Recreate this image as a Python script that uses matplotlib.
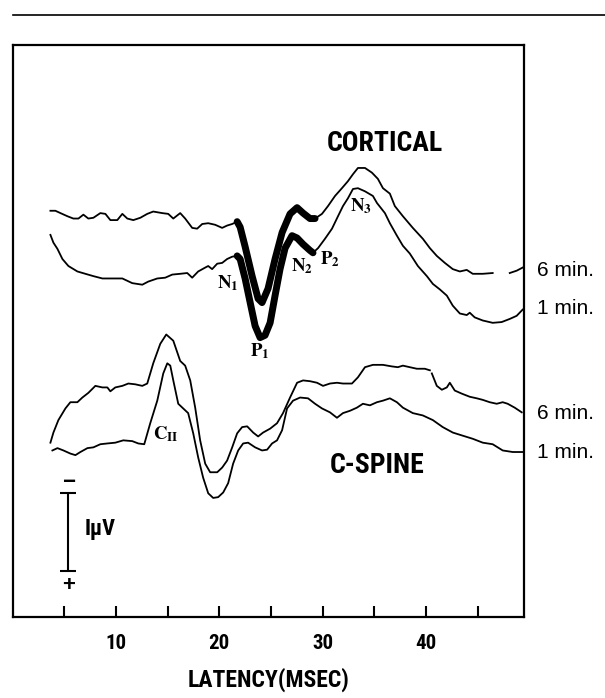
import numpy as np
import matplotlib
matplotlib.use("Agg")
import matplotlib.pyplot as plt
from matplotlib import font_manager
from matplotlib.lines import Line2D

# ---------------- data (latency in ms, amplitude in µV, offsets included) ----------------
# Cortical, 6 min: thin start, thick N1-P1-N2 segment, thin end
cort6_t_a = [3.67, 4.15, 4.64, 5.31, 5.89, 6.38, 6.86, 7.34, 7.83, 8.50, 8.99, 9.47, 10.14, 10.63,
             11.11, 11.69, 12.37, 13.04, 13.62, 14.49, 15.07, 15.56, 16.23, 16.71, 17.39, 17.87,
             18.36, 18.94, 19.61, 20.29, 20.77, 21.26, 21.74]
cort6_v_a = [5.22, 5.22, 5.19, 5.15, 5.12, 5.12, 5.17, 5.12, 5.13, 5.19, 5.18, 5.10, 5.10, 5.18,
             5.12, 5.10, 5.13, 5.18, 5.21, 5.19, 5.18, 5.12, 5.19, 5.12, 5.00, 4.99,
             5.05, 5.06, 5.04, 5.00, 5.03, 5.05, 5.08]
cort6_t_b = [21.74, 22.03, 22.51, 23.19, 23.77, 24.15, 24.73, 25.41, 26.09, 26.86, 27.54, 28.12, 28.79, 29.28]
cort6_v_b = [5.08, 5.01, 4.76, 4.38, 4.09, 4.04, 4.22, 4.60, 4.94, 5.18, 5.26, 5.19, 5.12, 5.12]
cort6_t_c = [29.28, 29.95, 30.53, 31.21, 31.88, 32.46, 32.95, 33.43, 34.11, 34.78, 35.36, 35.85, 36.52,
             37.00, 37.78, 38.74, 39.71, 40.39, 41.06, 41.84, 42.61, 43.29, 43.96, 44.54, 45.51,
             46.47, np.nan, 48.12, 48.79, 49.37]
cort6_v_c = [5.12, 5.18, 5.28, 5.41, 5.51, 5.60, 5.69, 5.77, 5.77, 5.71, 5.63, 5.51, 5.44,
             5.28, 5.15, 5.00, 4.86, 4.74, 4.64, 4.55, 4.47, 4.44, 4.46, 4.41, 4.41,
             4.42, np.nan, 4.42, 4.45, 4.49]

# Cortical, 1 min
cort1_t_a = [3.67, 3.96, 4.35, 4.83, 5.41, 6.28, 7.05, 7.83, 8.70, 9.66, 10.63, 11.59, 12.56, 13.14,
             14.01, 14.78, 15.46, 16.23, 16.91, 17.39, 17.97, 18.65, 18.94, 19.32, 19.81, 20.29,
             20.77, 21.26, 21.74]
cort1_v_a = [4.91, 4.81, 4.73, 4.60, 4.51, 4.44, 4.41, 4.38, 4.35, 4.35, 4.35, 4.29, 4.27, 4.31,
             4.35, 4.36, 4.40, 4.41, 4.42, 4.36, 4.44, 4.49, 4.51, 4.47, 4.54, 4.55,
             4.60, 4.63, 4.64]
cort1_t_b = [21.74, 22.03, 22.51, 23.00, 23.48, 23.96, 24.44, 24.93, 25.41, 25.89, 26.38, 27.05,
             27.54, 28.12, 28.79, 29.08]
cort1_v_b = [4.64, 4.60, 4.35, 4.04, 3.74, 3.59, 3.62, 3.78, 4.13, 4.47, 4.74, 4.90,
             4.87, 4.79, 4.71, 4.68]
cort1_t_c = [29.08, 29.57, 30.24, 30.92, 31.50, 31.98, 32.46, 32.95, 33.43, 34.11, 34.88, 35.27, 36.04,
             36.52, 37.20, 37.78, 38.45, 39.23, 40.10, 40.68, 41.35, 42.03, 42.61, 43.29, 43.96,
             44.25, 44.73, 45.51, 46.47, 47.34, 48.12, 48.79, 49.37]
cort1_v_c = [4.68, 4.74, 4.86, 4.99, 5.15, 5.28, 5.38, 5.50, 5.51, 5.47, 5.41, 5.32, 5.19,
             5.06, 4.90, 4.77, 4.67, 4.51, 4.38, 4.28, 4.21, 4.13, 4.00, 3.90, 3.88,
             3.91, 3.85, 3.81, 3.78, 3.79, 3.83, 3.87, 3.95]

# C-spine, 6 min
spine6_t = [3.67, 3.96, 4.44, 5.12, 5.60, 6.28, 6.76, 7.34, 8.02, 8.70, 9.18, 9.47, 9.95, 10.63,
            11.21, 11.88, 12.56, 13.04, 13.62, 14.30, 14.88, 15.56, 16.23, 16.71, 17.20, 17.68,
            18.16, 18.65, 19.13, 19.81, 20.29, 20.77, 21.26, 21.74, 22.22, 22.71, 23.29, 23.77,
            24.25, 24.93, 25.60, 26.18, 26.86, 27.54, 28.12, 28.79, 29.47, 30.05, 30.72, 31.40,
            31.98, 32.85, 33.43, 34.11, 34.88, 35.85, 36.71, 37.29, 37.78, 38.45, 39.13, 39.90,
            40.39, np.nan, 40.58, 41.06, 41.55, 42.03, 42.32, 42.80, 43.48, 44.25, 44.93, 45.51,
            46.18, 46.86, 47.44, 47.92, 48.60, 49.28]
spine6_v = [2.24, 2.37, 2.53, 2.68, 2.76, 2.76, 2.82, 2.88, 2.97, 2.95, 2.95, 2.90, 2.95, 2.97,
            3.00, 2.99, 2.97, 3.00, 3.26, 3.51, 3.63, 3.55, 3.29, 3.23, 3.04, 2.69,
            2.27, 1.97, 1.86, 1.86, 1.92, 2.01, 2.18, 2.36, 2.44, 2.45, 2.37, 2.32,
            2.37, 2.42, 2.49, 2.62, 2.82, 3.01, 3.04, 3.03, 3.01, 2.97, 3.00, 3.01,
            3.00, 3.00, 3.08, 3.21, 3.24, 3.24, 3.22, 3.21, 3.23, 3.21, 3.19, 3.19,
            3.17, np.nan, 3.13, 2.97, 2.92, 2.95, 3.01, 2.91, 2.87, 2.83, 2.81, 2.79,
            2.76, 2.74, 2.76, 2.74, 2.69, 2.63]

# C-spine, 1 min
spine1_t = [3.86, 4.35, 4.93, 5.60, 6.09, 6.57, 7.25, 7.83, 8.50, 9.18, 9.95, 10.72, 11.59, 12.17,
            12.75, 13.33, 14.01, 14.59, 14.98, 15.27, 15.56, 16.04, 16.52, 17.00, 17.49, 17.97,
            18.45, 18.94, 19.42, 19.90, 20.39, 20.87, 21.35, 21.84, 22.32, 22.80, 23.48, 24.15,
            24.64, 25.12, 25.60, 26.09, 26.57, 27.15, 27.83, 28.60, 29.28, 29.95, 30.72, 31.40,
            31.98, 32.66, 33.33, 33.91, 34.59, 35.27, 35.85, 36.52, 37.20, 37.78, 38.74, 39.71,
            40.68, 41.64, 42.61, 43.57, 44.54, 45.51, 46.47, 47.44, 48.41, 49.37]
spine1_v = [2.14, 2.17, 2.14, 2.10, 2.08, 2.12, 2.17, 2.18, 2.22, 2.23, 2.24, 2.27, 2.26, 2.23,
            2.22, 2.49, 2.78, 3.13, 3.26, 3.23, 3.04, 2.74, 2.68, 2.62, 2.36, 2.05,
            1.79, 1.59, 1.53, 1.54, 1.60, 1.72, 1.97, 2.14, 2.23, 2.24, 2.18, 2.14,
            2.15, 2.23, 2.27, 2.40, 2.68, 2.78, 2.82, 2.81, 2.74, 2.68, 2.63, 2.56,
            2.62, 2.65, 2.69, 2.74, 2.72, 2.76, 2.78, 2.81, 2.76, 2.69, 2.62, 2.59,
            2.53, 2.44, 2.37, 2.33, 2.29, 2.24, 2.22, 2.14, 2.12, 2.12]

x_ticks = [5, 10, 15, 20, 25, 30, 35, 40, 45]
x_ticklabels = ["", "10", "", "20", "", "30", "", "40", ""]
trace_labels = ["6 min.", "1 min.", "6 min.", "1 min."]
trace_label_y = [4.45, 3.96, 2.62, 2.12]
peak_labels = [r"$\mathbf{N_1}$", r"$\mathbf{P_1}$", r"$\mathbf{N_2}$", r"$\mathbf{P_2}$",
               r"$\mathbf{N_3}$", r"$\mathbf{C_{II}}$"]
peak_t = [20.87, 23.96, 28.02, 30.72, 33.72, 14.88]
peak_v = [4.29, 3.41, 4.51, 4.60, 5.28, 2.35]
scale_t = 5.41
scale_v = [0.59, 1.59]

for a, b in [(cort6_t_a, cort6_v_a), (cort6_t_b, cort6_v_b), (cort6_t_c, cort6_v_c),
             (cort1_t_a, cort1_v_a), (cort1_t_b, cort1_v_b), (cort1_t_c, cort1_v_c),
             (spine6_t, spine6_v), (spine1_t, spine1_v)]:
    assert len(a) == len(b)

# ---------------- fonts ----------------
avail = {f.name for f in font_manager.fontManager.ttflist}
cond = next((n for n in ["Liberation Sans Narrow", "DejaVu Sans Condensed", "Roboto Condensed",
                         "Liberation Sans"] if n in avail), "DejaVu Sans")
reg = "Liberation Sans" if "Liberation Sans" in avail else "DejaVu Sans"
plt.rcParams["mathtext.fontset"] = "stix"

# ---------------- figure ----------------
fig = plt.figure(figsize=(6.05, 6.98), dpi=100)
ax = fig.add_axes([12.5 / 605, 1 - 617 / 698, (524 - 12.5) / 605, (617 - 45) / 698])
ax.set_xlim(0, 49.5)
ax.set_ylim(0, 7.35)

lw_thin = 1.3
lw_thick = 5.0
k = "black"
ax.plot(cort6_t_a, cort6_v_a, color=k, lw=lw_thin)
ax.plot(cort6_t_b, cort6_v_b, color=k, lw=lw_thick, solid_capstyle="round", solid_joinstyle="round")
ax.plot(cort6_t_c, cort6_v_c, color=k, lw=lw_thin)
ax.plot(cort1_t_a, cort1_v_a, color=k, lw=lw_thin)
ax.plot(cort1_t_b, cort1_v_b, color=k, lw=lw_thick, solid_capstyle="round", solid_joinstyle="round")
ax.plot(cort1_t_c, cort1_v_c, color=k, lw=lw_thin)
ax.plot(spine6_t, spine6_v, color=k, lw=lw_thin)
ax.plot(spine1_t, spine1_v, color=k, lw=lw_thin)

# axes styling
for s in ax.spines.values():
    s.set_linewidth(1.6)
ax.set_xticks(x_ticks)
ax.set_xticklabels(x_ticklabels, fontfamily=cond, fontweight="bold", fontsize=15)
ax.tick_params(axis="x", direction="in", length=8, width=1.5, pad=12)
ax.set_yticks([])
ax.set_xlabel("LATENCY(MSEC)", fontfamily=cond, fontweight="bold", fontsize=17, labelpad=11)

# section titles
ax.text(36.04, 6.09, "CORTICAL", fontfamily=cond, fontweight="bold", fontsize=20,
        ha="center", va="center")
ax.text(35.27, 1.95, "C-SPINE", fontfamily=cond, fontweight="bold", fontsize=20,
        ha="center", va="center")

# trace labels on the right
for lab, yv in zip(trace_labels, trace_label_y):
    ax.text(50.72, yv, lab, fontfamily=reg, fontsize=15, ha="left", va="center", clip_on=False)

# peak labels
for lab, tt, vv in zip(peak_labels, peak_t, peak_v):
    ax.text(tt, vv, lab, fontsize=13.5, ha="center", va="center")

# calibration bar
ax.errorbar([scale_t], [np.mean(scale_v)], yerr=[[np.diff(scale_v)[0] / 2]], color=k,
            capsize=6, elinewidth=1.5, capthick=1.5, fmt="none")
ax.text(scale_t, scale_v[1] + 0.14, "\u2212", fontfamily=reg, fontweight="bold", fontsize=16,
        ha="center", va="center")
ax.text(scale_t, scale_v[0] - 0.19, "+", fontfamily=reg, fontweight="bold", fontsize=16,
        ha="center", va="center")
ax.text(scale_t + 1.6, np.mean(scale_v) + 0.04, "I\u00b5V", fontfamily=cond, fontweight="bold",
        fontsize=16, ha="left", va="center")

# rule line across the top
fig.add_artist(Line2D([13 / 605, 1.0], [1 - 15 / 698, 1 - 15 / 698], color=k, lw=1.2))

fig.savefig("out.png", dpi=100)
